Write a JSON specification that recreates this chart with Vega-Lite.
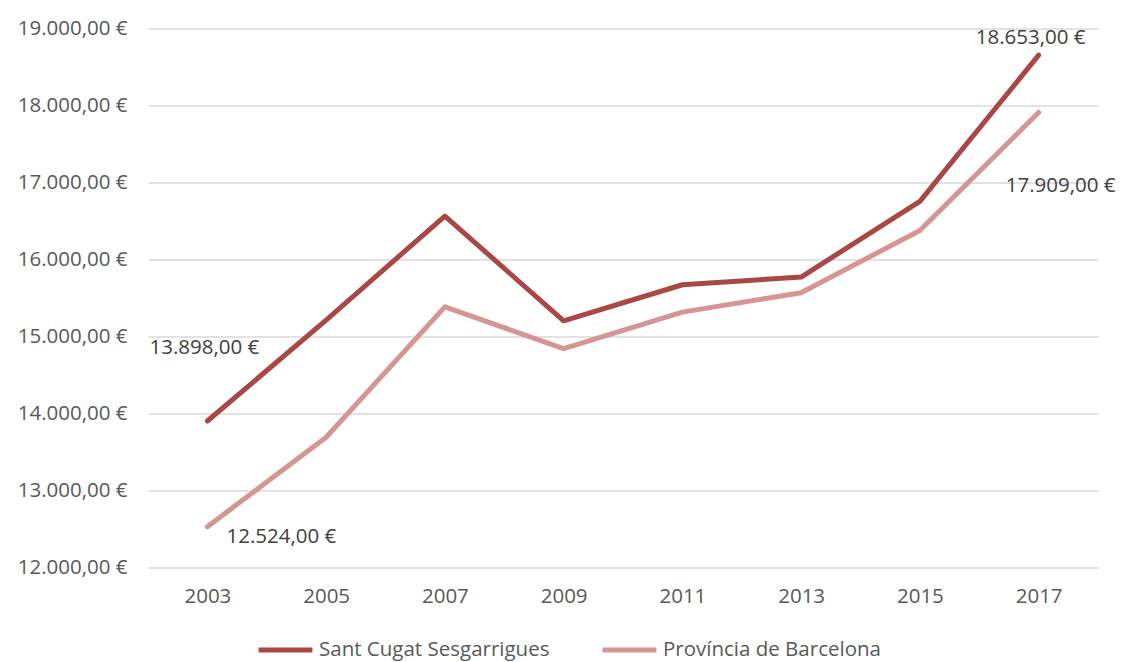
{
  "$schema": "https://vega.github.io/schema/vega-lite/v6.json",
  "width": 950,
  "height": 538.5,
  "autosize": {"type": "none"},
  "padding": {"left": 148, "top": 28.5, "right": 25, "bottom": 95},
  "background": "white",
  "config": {
    "locale": {"number": {"decimal": ",", "thousands": ".", "grouping": [3], "currency": ["", " €"]}},
    "view": {"stroke": null},
    "font": "Open Sans"
  },
  "data": {"values": [
    {"year": "2003", "serie": "Sant Cugat Sesgarrigues", "value": 13898},
    {"year": "2005", "serie": "Sant Cugat Sesgarrigues", "value": 15210},
    {"year": "2007", "serie": "Sant Cugat Sesgarrigues", "value": 16562},
    {"year": "2009", "serie": "Sant Cugat Sesgarrigues", "value": 15200},
    {"year": "2011", "serie": "Sant Cugat Sesgarrigues", "value": 15669},
    {"year": "2013", "serie": "Sant Cugat Sesgarrigues", "value": 15769},
    {"year": "2015", "serie": "Sant Cugat Sesgarrigues", "value": 16752},
    {"year": "2017", "serie": "Sant Cugat Sesgarrigues", "value": 18653},
    {"year": "2003", "serie": "Província de Barcelona", "value": 12524},
    {"year": "2005", "serie": "Província de Barcelona", "value": 13687},
    {"year": "2007", "serie": "Província de Barcelona", "value": 15382},
    {"year": "2009", "serie": "Província de Barcelona", "value": 14839},
    {"year": "2011", "serie": "Província de Barcelona", "value": 15313},
    {"year": "2013", "serie": "Província de Barcelona", "value": 15565},
    {"year": "2015", "serie": "Província de Barcelona", "value": 16374},
    {"year": "2017", "serie": "Província de Barcelona", "value": 17909}
  ]},
  "encoding": {
    "x": {"field": "year", "type": "ordinal",
      "scale": {"type": "point", "padding": 0.5},
      "axis": {"title": null, "labelAngle": 0, "domain": false, "ticks": false, "labelFont": "Open Sans", "labelFontSize": 20.5, "labelColor": "#595959", "labelPadding": 19}},
    "y": {"field": "value", "type": "quantitative",
      "scale": {"domain": [12000, 19000], "nice": false, "zero": false},
      "axis": {"title": null, "values": [12000, 13000, 14000, 15000, 16000, 17000, 18000, 19000], "format": "$,.2f", "domain": false, "ticks": false, "labelFont": "Open Sans", "labelFontSize": 20.5, "labelColor": "#595959", "labelPadding": 21, "gridColor": "#D9D9D9", "gridWidth": 1.5}}
  },
  "layer": [
    {
      "mark": {"type": "line", "strokeWidth": 5, "strokeCap": "round", "strokeJoin": "round"},
      "encoding": {
        "color": {"field": "serie", "type": "nominal",
          "scale": {"domain": ["Sant Cugat Sesgarrigues", "Província de Barcelona"], "range": ["#AA4643", "#D69593"]},
          "legend": {"title": null, "orient": "none", "legendX": 108, "legendY": 592, "direction": "horizontal", "symbolType": "stroke", "symbolSize": 2900, "symbolStrokeWidth": 5, "labelFont": "Open Sans", "labelFontSize": 20.5, "labelColor": "#595959", "labelLimit": 500, "columnPadding": 42, "symbolOffset": 0, "labelOffset": 4}}
      }
    },
    {
      "transform": [{"filter": "datum.year == '2003' && datum.serie == 'Sant Cugat Sesgarrigues'"}],
      "mark": {"type": "text", "dx": -3, "dy": -73, "fontSize": 20.5, "font": "Open Sans", "color": "#404040"},
      "encoding": {"text": {"field": "value", "type": "quantitative", "format": "$,.2f"}}
    },
    {
      "transform": [{"filter": "datum.year == '2003' && datum.serie == 'Província de Barcelona'"}],
      "mark": {"type": "text", "dx": 74, "dy": 10, "fontSize": 20.5, "font": "Open Sans", "color": "#404040"},
      "encoding": {"text": {"field": "value", "type": "quantitative", "format": "$,.2f"}}
    },
    {
      "transform": [{"filter": "datum.year == '2017' && datum.serie == 'Sant Cugat Sesgarrigues'"}],
      "mark": {"type": "text", "dx": -8, "dy": -17, "fontSize": 20.5, "font": "Open Sans", "color": "#404040"},
      "encoding": {"text": {"field": "value", "type": "quantitative", "format": "$,.2f"}}
    },
    {
      "transform": [{"filter": "datum.year == '2017' && datum.serie == 'Província de Barcelona'"}],
      "mark": {"type": "text", "dx": 22, "dy": 74, "fontSize": 20.5, "font": "Open Sans", "color": "#404040"},
      "encoding": {"text": {"field": "value", "type": "quantitative", "format": "$,.2f"}}
    }
  ]
}
